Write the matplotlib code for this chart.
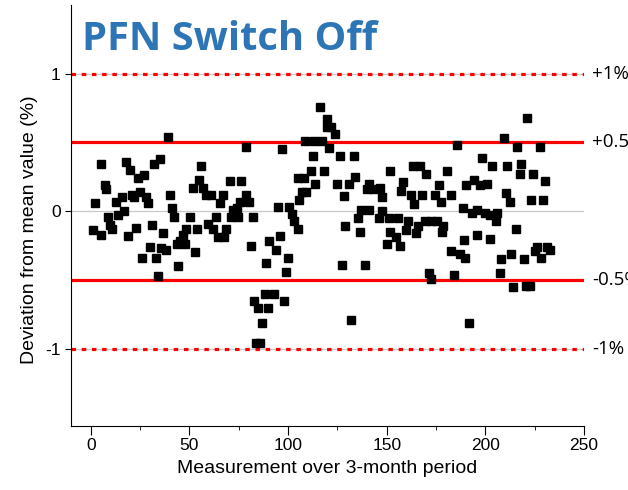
import matplotlib.pyplot as plt
from matplotlib.ticker import MultipleLocator

measurement = [
    1.2, 2, 5, 5.4, 7, 8, 9, 10, 11, 13, 14, 16, 17, 17.7, 19, 20, 21, 22, 23, 24,
    25, 26, 27, 28, 29, 30, 31, 32, 33, 34, 35, 35.7, 36.5, 38, 39.2, 40, 41, 42,
    43.5, 44, 45.5, 46.8, 47.7, 48.5, 50.5, 51.9, 53, 54, 55, 56, 57, 58.5, 59.5,
    61, 62, 63.7, 64.5, 65.4, 67, 67.5, 68.8, 70.5, 71, 72, 74, 74.5, 75.5, 76,
    78.6, 78.6, 80, 81, 82, 82.8, 84, 85, 86, 87, 88.4, 89, 90, 90.4, 93, 94, 95,
    95.8, 97, 98, 98.9, 100.2, 100.5, 102, 103, 104.8, 104.8, 105.6, 107.3, 108,
    108.5, 109, 111.6, 112.7, 113, 113.5, 116.3, 117, 118, 119.7, 119.7, 120.8,
    122, 123.6, 124.7, 126.3, 127.3, 128.3, 129, 131, 132, 133.2, 134, 135.5,
    136.3, 137, 139, 140, 140.8, 141, 143.3, 145.9, 146.7, 147.5, 147.5, 150, 151,
    151.5, 151.8, 154.8, 155.6, 156.5, 157, 158.2, 159.9, 161, 162.4, 163.3, 164,
    165, 165.8, 166.7, 168, 169.2, 170, 171.2, 172.3, 172.6, 174.3, 175.6, 176.3,
    177.3, 178, 178.5, 180.7, 182.4, 182.7, 184, 185.8, 187, 188.6, 189, 189.8,
    190.3, 191.5, 193.4, 194.2, 195.6, 196, 197.3, 198.4, 199.6, 200.7, 202.3,
    202.3, 203.5, 205.2, 206, 207.4, 208, 209.4, 210.3, 211, 212.4, 213, 214.2,
    215.4, 216.2, 217.5, 218, 219.6, 220.4, 221.2, 222.6, 223, 224.3, 225, 226,
    227.7, 228.3, 229.2, 230.2, 231.4, 232.7,
]
deviation = [
    -0.14, 0.06, 0.34, -0.17, 0.19, 0.16, -0.04, -0.10, -0.13, 0.07, -0.03, 0.10,
    0.0, 0.355, -0.18, 0.30, 0.12, 0.10, -0.12, 0.24, 0.14, -0.34, 0.26, 0.10,
    0.06, -0.26, -0.10, 0.34, -0.34, -0.47, 0.38, -0.27, -0.16, -0.28, 0.54, 0.12,
    0.02, -0.04, -0.24, -0.40, -0.22, -0.17, -0.24, -0.13, -0.04, 0.17, -0.30,
    -0.13, 0.23, 0.33, 0.17, 0.12, -0.09, 0.12, -0.13, -0.04, -0.19, 0.06, 0.12,
    -0.19, -0.13, 0.22, -0.04, 0.01, 0.02, -0.04, 0.07, 0.22, 0.47, 0.12, 0.07,
    -0.25, -0.04, -0.65, -0.96, -0.70, -0.96, -0.81, -0.60, -0.38, -0.70, -0.22,
    -0.60, -0.28, 0.03, -0.18, 0.45, -0.65, -0.44, -0.34, 0.03, -0.02, -0.07,
    0.24, -0.13, 0.08, 0.14, 0.24, 0.51, 0.14, 0.29, 0.40, 0.51, 0.20, 0.76, 0.51,
    0.29, 0.67, 0.61, 0.46, 0.61, 0.56, 0.20, 0.40, -0.39, 0.11, -0.11, 0.20,
    -0.79, 0.40, 0.25, -0.05, -0.15, 0.01, -0.39, 0.16, 0.20, 0.01, 0.16, -0.05,
    0.17, 0.10, 0.0, -0.24, -0.05, -0.15, 0.29, -0.19, -0.05, -0.25, 0.15, 0.21,
    -0.14, -0.07, 0.12, 0.33, 0.05, -0.16, -0.11, 0.33, 0.12, -0.07, 0.27, -0.45,
    -0.49, -0.07, 0.12, -0.07, 0.19, 0.07, -0.15, -0.11, 0.29, 0.12, -0.29, -0.46,
    0.48, -0.31, 0.02, -0.21, -0.34, 0.19, -0.81, -0.01, 0.23, 0.01, -0.17, 0.19,
    0.39, -0.01, 0.20, -0.03, -0.20, 0.33, -0.07, -0.01, -0.45, -0.35, 0.53, 0.13,
    0.33, 0.07, -0.31, -0.55, -0.13, 0.47, 0.27, 0.34, -0.35, -0.54, 0.68, -0.54,
    0.08, 0.27, -0.29, -0.26, 0.47, -0.34, 0.08, 0.22, -0.26, -0.28,
]
limit_levels = [1, 0.5, -0.5, -1]
limit_labels = ["+1%", "+0.5%", "-0.5%", "-1%"]
limit_styles = ["dotted", "solid", "solid", "dotted"]

plt.rcParams["font.family"] = ["Liberation Sans", "DejaVu Sans"]

fig = plt.figure(figsize=(6.28, 4.90), dpi=100)
ax = fig.add_axes([0.113, 0.131, 0.817, 0.859])

ax.set_xlim(-10, 250)
ax.set_ylim(-1.56, 1.5)

# gray reference lines at the major y ticks
for y in [-1, 0, 1]:
    ax.axhline(y, color="#c8c8c8", lw=0.9, zorder=1)

for y, style in zip(limit_levels, limit_styles):
    if style == "dotted":
        ax.axhline(y, color="#ff0000", lw=2.3, linestyle=(0, (1.4, 1.8)), zorder=2)
    else:
        ax.axhline(y, color="#ff0000", lw=2.3, zorder=2)

ax.plot(measurement, deviation, linestyle="none", marker="s", markersize=6.4,
        color="black", zorder=3)

# labels for the limit lines, on the right (cut by the figure edge as in the original)
for y, lab in zip(limit_levels, limit_labels):
    ax.text(1.0156, y, lab, transform=ax.get_yaxis_transform(), va="center",
            ha="left", fontsize=13.5, family=["Open Sans", "DejaVu Sans"],
            clip_on=False)

ax.spines["top"].set_visible(False)
ax.spines["right"].set_visible(False)
ax.set_yticks([-1, 0, 1])
ax.set_yticklabels(["-1", "0", "1"])
ax.xaxis.set_major_locator(MultipleLocator(50))
ax.xaxis.set_minor_locator(MultipleLocator(25))
ax.tick_params(axis="x", which="major", length=6.5, labelsize=12.5, pad=2)
ax.tick_params(axis="x", which="minor", length=3)
ax.tick_params(axis="y", length=4, labelsize=12.5)

ax.set_xlabel("Measurement over 3-month period", fontsize=14, labelpad=5)
ax.set_ylabel("Deviation from mean value (%)", fontsize=14)
ax.yaxis.set_label_coords(-0.064, 0.466)

fig.text(0.1306, 0.92, "PFN Switch Off", color="#2e75b6", fontsize=28.7,
         fontweight="bold", family=["Open Sans", "DejaVu Sans"], va="center")

fig.savefig("out.png", dpi=100)
